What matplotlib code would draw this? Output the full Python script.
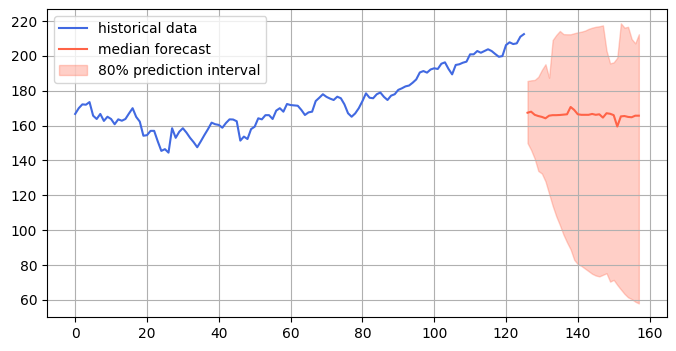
import numpy as np
import matplotlib
matplotlib.use("Agg")
import matplotlib.pyplot as plt

history = [
    166.7, 170.0, 172.2, 172.0, 173.5, 165.7, 163.8, 166.7, 162.7, 165.1,
    163.8, 160.8, 163.6, 162.8, 163.8, 167.0, 170.0, 165.0, 162.3, 154.2,
    154.5, 157.0, 157.0, 151.0, 145.5, 146.5, 144.5, 158.5, 153.0, 156.5,
    158.5, 156.0, 153.0, 150.5, 147.6, 151.0, 154.6, 158.0, 161.7, 160.8,
    160.4, 158.8, 161.5, 163.6, 163.5, 162.5, 151.4, 153.7, 152.3, 158.0,
    159.4, 164.2, 163.6, 166.0, 166.0, 163.8, 168.6, 170.0, 168.0, 172.4,
    171.8, 171.6, 171.4, 169.0, 166.1, 167.6, 168.0, 174.1, 176.0, 178.0,
    176.5, 175.5, 174.7, 176.6, 175.7, 172.2, 167.1, 165.1, 167.0, 170.0,
    174.0, 178.5, 176.0, 175.7, 178.0, 179.0, 176.5, 174.7, 177.2, 178.0,
    180.5, 181.4, 182.5, 183.0, 184.6, 186.5, 190.5, 191.3, 190.4, 192.2,
    192.9, 192.5, 195.5, 196.3, 192.5, 189.4, 194.8, 195.2, 196.1, 196.7,
    200.9, 200.9, 202.8, 201.8, 202.8, 203.8, 202.8, 201.1, 199.5, 199.9,
    206.2, 207.8, 206.8, 207.2, 211.0, 212.5,
]

median = [
    167.4, 168.0, 166.2, 165.5, 165.0, 164.2, 165.7, 166.0, 166.0, 166.1,
    166.3, 166.5, 170.7, 169.0, 166.5, 166.2, 166.2, 166.2, 166.7, 166.2,
    166.5, 164.6, 167.1, 166.8, 166.0, 159.5, 165.3, 165.5, 165.0, 164.8,
    165.7, 165.7,
]

upper = [
    185.6, 186.0, 186.2, 188.0, 192.0, 195.2, 187.5, 209.1, 212.0, 214.3,
    212.5, 212.4, 212.4, 213.0, 213.5, 213.9, 214.5, 215.5, 216.2, 216.7,
    217.0, 217.5, 203.0, 195.7, 196.3, 199.0, 218.7, 216.2, 216.7, 209.7,
    207.2, 212.4,
]

lower = [
    150.0, 146.0, 141.0, 134.0, 132.5, 128.0, 121.0, 114.0, 108.0, 103.0,
    97.5, 93.0, 89.0, 83.0, 80.5, 79.5, 78.0, 76.5, 75.0, 74.0,
    73.5, 74.4, 75.3, 70.5, 71.5, 68.6, 66.0, 63.5, 61.5, 60.5,
    59.0, 58.0,
]

hist_x = np.arange(len(history))
fc_x = np.arange(len(history), len(history) + len(median))

fig = plt.figure(figsize=(6.76, 3.51), dpi=100)
ax = fig.add_axes([0.0695, 0.0957, 0.9172, 0.8778])

ax.plot(hist_x, history, color="royalblue", label="historical data")
ax.plot(fc_x, median, color="tomato", label="median forecast")
ax.fill_between(fc_x, lower, upper, color="tomato", alpha=0.3,
                label="80% prediction interval")
ax.grid(True)
ax.legend(loc="upper left")

fig.savefig("out.png", dpi=100)
